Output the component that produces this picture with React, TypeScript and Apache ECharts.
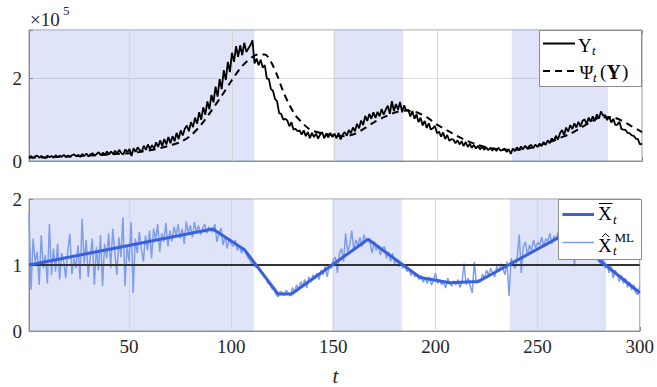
import React, { useEffect, useRef } from 'react';
import * as echarts from 'echarts';

// Observed series Y_t, in units of 1e5, t = 1..300
const yObserved = [
  0.08, 0.12, 0.07, 0.11, 0.13, 0.08, 0.12, 0.09, 0.07, 0.13,
  0.09, 0.12, 0.08, 0.14, 0.09, 0.13, 0.10, 0.15, 0.09, 0.13,
  0.10, 0.14, 0.16, 0.11, 0.15, 0.10, 0.17, 0.12, 0.18, 0.11,
  0.16, 0.19, 0.13, 0.17, 0.21, 0.14, 0.20, 0.15, 0.23, 0.16,
  0.23, 0.17, 0.25, 0.18, 0.27, 0.19, 0.16, 0.28, 0.21, 0.29,
  0.12, 0.31, 0.22, 0.33, 0.26, 0.23, 0.37, 0.27, 0.40, 0.29,
  0.38, 0.30, 0.45, 0.34, 0.50, 0.36, 0.53, 0.40, 0.58, 0.43,
  0.60, 0.48, 0.68, 0.53, 0.74, 0.62, 0.78, 0.86, 0.72, 0.94,
  0.82, 1.05, 0.90, 1.18, 1.00, 1.30, 1.12, 1.44, 1.25, 1.60,
  1.42, 1.80, 1.56, 1.98, 1.74, 2.20, 1.96, 2.40, 2.15, 2.62,
  2.40, 2.78, 2.52, 2.80, 2.56, 2.86, 2.64, 2.72, 2.80, 2.92,
  2.36, 2.48, 2.32, 2.45, 2.26, 2.32, 2.00, 1.98, 1.74, 1.70,
  1.50, 1.45, 1.16, 1.14, 1.00, 1.02, 0.98, 0.84, 0.94, 0.76,
  0.78, 0.72, 0.74, 0.64, 0.74, 0.60, 0.70, 0.55, 0.68, 0.58,
  0.66, 0.54, 0.64, 0.70, 0.55, 0.66, 0.57, 0.68, 0.58, 0.66,
  0.55, 0.68, 0.52, 0.64, 0.70, 0.61, 0.75, 0.67, 0.81, 0.72,
  0.90, 0.79, 0.98, 0.87, 1.09, 0.97, 1.14, 1.02, 1.18, 1.04,
  1.19, 1.08, 1.26, 1.12, 1.24, 1.34, 1.14, 1.45, 1.21, 1.38,
  1.24, 1.43, 1.18, 1.35, 1.22, 1.24, 1.08, 1.21, 1.02, 1.13,
  0.94, 1.05, 0.86, 0.97, 0.80, 0.91, 0.76, 0.79, 0.85, 0.67,
  0.71, 0.59, 0.69, 0.53, 0.63, 0.49, 0.53, 0.52, 0.43, 0.50,
  0.40, 0.48, 0.36, 0.46, 0.34, 0.42, 0.32, 0.39, 0.30, 0.37,
  0.28, 0.35, 0.27, 0.33, 0.26, 0.32, 0.25, 0.31, 0.24, 0.32,
  0.25, 0.27, 0.30, 0.22, 0.28, 0.17, 0.30, 0.24, 0.33, 0.26,
  0.35, 0.28, 0.37, 0.30, 0.36, 0.39, 0.31, 0.40, 0.34, 0.42,
  0.36, 0.46, 0.39, 0.50, 0.43, 0.55, 0.48, 0.61, 0.52, 0.67,
  0.75, 0.63, 0.81, 0.71, 0.87, 0.77, 0.91, 0.81, 0.95, 0.83,
  0.97, 1.01, 0.89, 1.05, 0.95, 1.08, 0.97, 1.13, 1.03, 1.20,
  1.10, 1.11, 0.99, 1.08, 0.93, 1.02, 0.87, 0.88, 0.95, 0.77,
  0.76, 0.75, 0.68, 0.67, 0.62, 0.61, 0.54, 0.53, 0.40, 0.42,
];

// Smoothed fit Psi_t(Y), in units of 1e5
const psiT = [1, 10, 20, 30, 40, 50, 55, 60, 65, 70, 75, 80, 85, 90, 95, 100, 105, 110, 113, 116, 119, 122, 125, 128, 131, 134, 137, 140, 145, 150, 155, 160, 165, 170, 175, 180, 185, 190, 195, 200, 205, 210, 215, 220, 225, 230, 235, 240, 245, 250, 255, 260, 265, 270, 275, 280, 285, 290, 295, 300];
const psiV = [0.08, 0.09, 0.11, 0.13, 0.16, 0.19, 0.22, 0.26, 0.31, 0.38, 0.46, 0.62, 0.88, 1.22, 1.58, 1.96, 2.30, 2.52, 2.58, 2.58, 2.40, 2.08, 1.68, 1.36, 1.10, 0.94, 0.80, 0.72, 0.66, 0.62, 0.60, 0.66, 0.80, 0.96, 1.08, 1.18, 1.22, 1.18, 1.06, 0.88, 0.74, 0.60, 0.48, 0.39, 0.32, 0.28, 0.27, 0.28, 0.31, 0.38, 0.46, 0.56, 0.66, 0.80, 0.94, 1.06, 1.06, 0.98, 0.84, 0.70];

// ML estimate X-hat_t^ML, t = 1..300
const xHatML = [
  1.78, 0.62, 1.40, 1.05, 1.20, 0.70, 1.45, 0.95, 1.15, 0.72,
  1.62, 0.85, 1.25, 0.90, 1.32, 0.78, 1.18, 1.05, 0.80, 1.22,
  1.47, 0.86, 1.10, 0.95, 1.30, 0.78, 1.70, 1.02, 1.38, 0.82,
  1.12, 1.40, 0.70, 1.28, 0.92, 1.45, 0.68, 1.32, 1.10, 1.48,
  0.95, 1.55, 1.20, 0.85, 1.42, 1.12, 1.72, 0.68, 1.30, 1.05,
  1.65, 0.58, 1.40, 1.18, 1.50, 1.25, 1.05, 1.45, 1.22, 1.52,
  1.10, 1.55, 1.38, 1.62, 1.20, 1.48, 1.35, 1.64, 1.28, 1.52,
  1.36, 1.58, 1.45, 1.62, 1.40, 1.55, 1.32, 1.66, 1.48, 1.60,
  1.42, 1.65, 1.50, 1.60, 1.46, 1.55, 1.62, 1.48, 1.58, 1.52,
  1.50, 1.62, 1.35, 1.48, 1.56, 1.30, 1.44, 1.25, 1.40, 1.32,
  1.28, 1.38, 1.22, 1.30, 1.18, 1.26, 1.20, 1.12, 1.08, 1.02,
  1.00, 0.96, 0.98, 0.90, 0.88, 0.82, 0.80, 0.72, 0.70, 0.64,
  0.62, 0.55, 0.52, 0.60, 0.58, 0.54, 0.62, 0.57, 0.53, 0.66,
  0.58, 0.70, 0.62, 0.75, 0.68, 0.78, 0.65, 0.82, 0.74, 0.85,
  0.80, 0.88, 0.78, 0.92, 0.85, 0.98, 0.82, 1.00, 0.95, 1.08,
  1.12, 0.88, 1.18, 1.25, 1.05, 1.48, 1.20, 1.30, 1.52, 1.22,
  1.38, 1.30, 1.42, 1.28, 1.46, 1.35, 1.40, 1.32, 1.18, 1.36,
  1.22, 1.30, 1.15, 1.25, 1.28, 1.10, 1.20, 1.05, 1.18, 1.02,
  1.08, 0.98, 1.04, 0.95, 1.00, 0.90, 0.94, 0.84, 0.90, 0.82,
  0.86, 0.78, 0.84, 0.74, 0.80, 0.72, 0.82, 0.70, 0.76, 0.88,
  0.72, 0.78, 0.70, 0.74, 0.65, 0.80, 0.72, 0.68, 0.76, 0.70,
  0.78, 0.66, 0.74, 1.02, 0.70, 0.80, 0.68, 0.58, 1.05, 0.72,
  0.78, 0.74, 0.86, 0.80, 0.92, 0.84, 0.95, 0.88, 0.82, 0.98,
  0.90, 1.02, 0.95, 0.85, 1.05, 0.53, 1.10, 1.00, 0.95, 1.12,
  1.46, 0.88, 1.28, 1.35, 1.15, 1.30, 1.22, 1.38, 1.26, 1.34,
  1.30, 1.42, 1.28, 1.40, 1.36, 1.48, 1.32, 1.44, 1.38, 1.50,
  1.45, 1.52, 1.40, 1.55, 1.42, 1.38, 1.46, 0.98, 1.40, 1.22,
  1.30, 1.25, 1.35, 1.20, 1.28, 1.15, 1.22, 1.10, 1.18, 1.05,
  1.02, 1.10, 0.95, 1.00, 0.88, 0.98, 0.80, 0.92, 0.85, 0.75,
  0.85, 0.72, 0.80, 0.66, 0.74, 0.62, 0.70, 0.58, 0.55, 0.68,
];

// Piecewise-linear X-bar_t
const xBarT = [1, 91, 106.5, 123, 129.5, 167, 192.5, 207, 221, 264, 300];
const xBarV = [1.0, 1.545, 1.23, 0.56, 0.56, 1.39, 0.81, 0.73, 0.75, 1.48, 0.58];

// Shaded intervals
const bandStart = [1, 149.5, 236.5];
const bandEnd = [111, 183.5, 283.5];

const xTicks = [50, 100, 150, 200, 250, 300];
const gridXLines = [50, 100, 150, 200, 250];
const topYTicks = [0, 2];
const refLevel = 1;

const FONT = "'Liberation Serif', 'Times New Roman', 'DejaVu Serif', serif";
const AX = '#8c8c8c';
const TXT = '#262626';
const BAR_C = '#3a61dc';
const HAT_C = '#7f9ded';

export default function App() {
  const ref = useRef<HTMLDivElement>(null);
  useEffect(() => {
    const chart = echarts.init(ref.current!, null, { renderer: 'svg' });
    const tIdx = yObserved.map((_, i) => i + 1);
    const bandsData = bandStart.map((s, i) => [{ xAxis: s }, { xAxis: bandEnd[i] }]);
    const gridLineData = gridXLines.map((v) => ({ xAxis: v }));

    const mkX = (gi: number, pos: 'top' | 'bottom', labels: boolean) => ({
      type: 'value',
      gridIndex: gi,
      position: pos,
      min: 1,
      max: 300,
      axisLine: { show: pos === 'bottom', lineStyle: { color: AX, width: 1 } },
      axisTick: { show: true, inside: true, length: 4, customValues: xTicks, lineStyle: { color: AX } },
      axisLabel: labels
        ? { show: true, customValues: xTicks, fontSize: 19, fontFamily: FONT, color: TXT, margin: 6 }
        : { show: false },
      splitLine: { show: false },
    });

    const helper = (gi: number) => ({
      type: 'line',
      xAxisIndex: gi === 0 ? 0 : 2,
      yAxisIndex: gi,
      data: [[1, 0]],
      symbol: 'none',
      lineStyle: { width: 0, opacity: 0 },
      silent: true,
      z: 1,
      markArea: {
        silent: true,
        z: 1,
        itemStyle: { color: 'rgba(100,120,220,0.2)' },
        data: bandsData,
      },
      markLine: {
        silent: true,
        z: 1.5,
        symbol: 'none',
        label: { show: false },
        lineStyle: { color: '#d6d6d6', type: 'solid', width: 1 },
        data: gridLineData,
      },
    });

    const txt = (text: string, x: number, y: number, size: number, extra: any = {}) => ({
      type: 'text', z: 101, x, y,
      style: {
        text, fontSize: size, fontFamily: FONT, fontStyle: extra.italic ? 'italic' : 'normal',
        fontWeight: extra.bold ? 'bold' : 'normal', fill: extra.fill || '#000',
        align: extra.align || 'left', verticalAlign: 'middle',
      },
    });

    const graphics: any[] = [
      txt('×10', 30, 19, 19, { fill: TXT }),
      txt('5', 63, 10, 13, { fill: TXT }),
      txt('t', 335.5, 376, 21, { italic: true, align: 'center', fill: TXT }),
      // top legend
      { type: 'rect', z: 100, shape: { x: 539.5, y: 30.5, width: 102, height: 56 }, style: { fill: '#fff', stroke: AX, lineWidth: 1 } },
      { type: 'line', z: 101, shape: { x1: 543, y1: 43.5, x2: 575, y2: 43.5 }, style: { stroke: '#000', lineWidth: 2 } },
      txt('Y', 578, 45.5, 19),
      txt('t', 592, 50.5, 13, { italic: true }),
      { type: 'line', z: 101, shape: { x1: 543, y1: 71, x2: 575, y2: 71 }, style: { stroke: '#000', lineWidth: 2, lineDash: [7, 5] } },
      txt('Ψ', 579.5, 72, 19),
      txt('t', 593, 77, 13, { italic: true }),
      txt('(', 600, 71.5, 19),
      txt('Y', 606.5, 72, 20, { bold: true }),
      txt(')', 622, 71.5, 19),
      // bottom legend
      { type: 'rect', z: 100, shape: { x: 558.5, y: 199.5, width: 83, height: 60 }, style: { fill: '#fff', stroke: AX, lineWidth: 1 } },
      { type: 'line', z: 101, shape: { x1: 562.5, y1: 214.5, x2: 594, y2: 214.5 }, style: { stroke: BAR_C, lineWidth: 3 } },
      { type: 'line', z: 101, shape: { x1: 599, y1: 203.5, x2: 612.5, y2: 203.5 }, style: { stroke: '#000', lineWidth: 1 } },
      txt('X', 598, 213.5, 19),
      txt('t', 613, 219, 13, { italic: true }),
      { type: 'line', z: 101, shape: { x1: 562.5, y1: 242.5, x2: 594, y2: 242.5 }, style: { stroke: HAT_C, lineWidth: 1.5 } },
      { type: 'polyline', z: 101, shape: { points: [[602, 237], [605.5, 233.5], [609, 237]] }, style: { stroke: '#000', lineWidth: 1, fill: 'none' } },
      txt('X', 598, 245.5, 19),
      txt('ML', 614.5, 237.5, 13),
      txt('t', 613, 250, 13, { italic: true }),
    ];

    const option: any = {
      animation: false,
      backgroundColor: '#fff',
      textStyle: { fontFamily: FONT },
      grid: [
        { left: 29, top: 30, width: 613, height: 131, show: true, borderColor: '#9a9a9a', borderWidth: 1, backgroundColor: 'transparent' },
        { left: 29, top: 199, width: 613, height: 132, show: true, borderColor: '#9a9a9a', borderWidth: 1, backgroundColor: 'transparent' },
      ],
      xAxis: [mkX(0, 'bottom', false), mkX(0, 'top', false), mkX(1, 'bottom', true), mkX(1, 'top', false)],
      yAxis: [
        {
          type: 'value', gridIndex: 0, min: 0, max: 3.17, interval: 2,
          axisLine: { show: true, lineStyle: { color: AX } },
          axisTick: { show: true, inside: true, length: 4, lineStyle: { color: AX } },
          axisLabel: {
            fontSize: 19, fontFamily: FONT, color: TXT, margin: 7,
            formatter: (v: number) => (topYTicks.indexOf(v) >= 0 ? String(v) : ''),
          },
          splitLine: { show: true, lineStyle: { color: '#dedede', width: 1 } },
        },
        {
          type: 'value', gridIndex: 1, min: 0, max: 2, interval: 1,
          axisLine: { show: true, lineStyle: { color: AX } },
          axisTick: { show: true, inside: true, length: 4, lineStyle: { color: AX } },
          axisLabel: { fontSize: 19, fontFamily: FONT, color: TXT, margin: 7 },
          splitLine: { show: true, lineStyle: { color: '#dedede', width: 1 } },
        },
      ],
      series: [
        helper(0),
        helper(1),
        {
          type: 'line', xAxisIndex: 0, yAxisIndex: 0, z: 2,
          data: tIdx.map((t, i) => [t, yObserved[i]]),
          symbol: 'none', lineStyle: { color: '#000', width: 1.8 },
        },
        {
          type: 'line', xAxisIndex: 0, yAxisIndex: 0, z: 2,
          data: psiT.map((t, i) => [t, psiV[i]]),
          symbol: 'none', smooth: 0.3, lineStyle: { color: '#000', width: 2, type: [7, 5] },
        },
        {
          type: 'line', xAxisIndex: 2, yAxisIndex: 1, z: 2,
          data: tIdx.map((t, i) => [t, xHatML[i]]),
          symbol: 'none', lineStyle: { color: HAT_C, width: 1.5 },
        },
        {
          type: 'line', xAxisIndex: 2, yAxisIndex: 1, z: 2,
          data: [[1, refLevel], [300, refLevel]],
          symbol: 'none', lineStyle: { color: '#333', width: 2 },
        },
        {
          type: 'line', xAxisIndex: 2, yAxisIndex: 1, z: 2,
          data: xBarT.map((t, i) => [t, xBarV[i]]),
          symbol: 'none', lineStyle: { color: BAR_C, width: 3 },
        },
      ],
      graphic: graphics,
    };
    chart.setOption(option);
    return () => chart.dispose();
  }, []);
  return <div ref={ref} style={{ position: 'fixed', left: 0, top: 0, width: 657, height: 387 }} />;
}
